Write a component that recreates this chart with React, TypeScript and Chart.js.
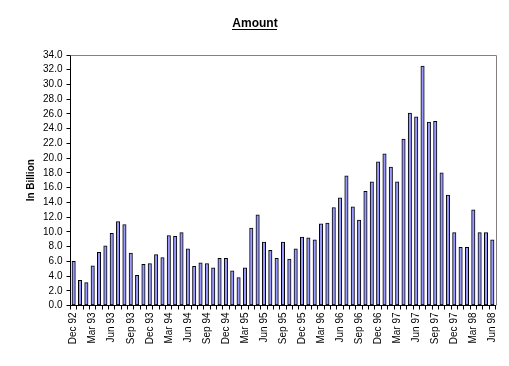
import React, { useEffect, useRef } from "react";
import { Chart, registerables } from "chart.js";

Chart.register(...registerables);

const MONTHS = ["Jan","Feb","Mar","Apr","May","Jun","Jul","Aug","Sep","Oct","Nov","Dec"];
const categories: string[] = [];
for (let i = 0; i < 67; i++) {
  const m = (11 + i) % 12;
  const y = 92 + Math.floor((11 + i) / 12);
  categories.push(`${MONTHS[m]} ${String(y).padStart(2, "0")}`);
}

const amounts = [
  6.0,
  3.4, 3.1, 5.4, 7.2, 8.1, 9.8, 11.4, 11.0, 7.1, 4.1, 5.6, 5.7,
  6.9, 6.5, 9.5, 9.4, 9.9, 7.7, 5.3, 5.8, 5.7, 5.1, 6.4, 6.4,
  4.7, 3.8, 5.1, 10.5, 12.3, 8.6, 7.5, 6.4, 8.6, 6.3, 7.7, 9.3,
  9.2, 8.9, 11.1, 11.2, 13.3, 14.6, 17.6, 13.4, 11.6, 15.5, 16.8, 19.5,
  20.6, 18.8, 16.8, 22.6, 26.1, 25.6, 32.5, 24.9, 25.0, 18.0, 15.0, 9.9,
  7.9, 7.9, 13.0, 9.9, 9.9, 8.9,
];

const yTicks = { min: 0, max: 34, step: 2 };
const FONT = "Arial, 'Liberation Sans', sans-serif";

export default function App() {
  const ref = useRef<HTMLCanvasElement | null>(null);
  useEffect(() => {
    if (!ref.current) return;
    const decor = {
      id: "decor",
      afterDraw(chart: any) {
        const ctx = chart.ctx;
        const a = chart.chartArea;
        ctx.save();
        ctx.strokeStyle = "#808080";
        ctx.lineWidth = 1;
        ctx.beginPath();
        ctx.moveTo(a.left, Math.round(a.top) + 0.5);
        ctx.lineTo(Math.round(a.right) + 0.5, Math.round(a.top) + 0.5);
        ctx.lineTo(Math.round(a.right) + 0.5, a.bottom);
        ctx.stroke();
        // title
        ctx.fillStyle = "#000";
        ctx.font = `bold 12px ${FONT}`;
        ctx.textAlign = "center";
        ctx.textBaseline = "alphabetic";
        const t = "Amount";
        const w = ctx.measureText(t).width;
        ctx.fillText(t, 255, 27);
        ctx.fillRect(Math.round(255 - w / 2), 29, Math.round(w), 1);
        // y title
        ctx.translate(31, (a.top + a.bottom) / 2);
        ctx.rotate(-Math.PI / 2);
        ctx.font = `bold 10px ${FONT}`;
        ctx.textBaseline = "middle";
        ctx.fillText("In Billion", 0, 0);
        ctx.restore();
      },
    };
    const chart = new Chart(ref.current, {
      type: "bar",
      data: {
        labels: categories,
        datasets: [
          {
            data: amounts,
            backgroundColor: "#9999FF",
            borderColor: "#000000",
            borderWidth: 1,
            borderSkipped: false,
            barThickness: 3.4,
          },
        ],
      },
      options: {
        animation: false,
        responsive: false,
        devicePixelRatio: 1,
        layout: { padding: { top: 55, right: 13.5, left: 0, bottom: 0 } },
        plugins: { legend: { display: false }, title: { display: false }, tooltip: { enabled: false } },
        scales: {
          x: {
            offset: true,
            grid: { display: true, drawOnChartArea: false, drawTicks: true, tickLength: 4, color: "#000", offset: true },
            border: { display: true, color: "#000", width: 1 },
            ticks: {
              autoSkip: false,
              minRotation: 90,
              maxRotation: 90,
              padding: 3,
              color: "#000",
              font: { family: FONT, size: 10 },
              callback: (_v: any, i: number) => (i % 3 === 0 ? categories[i] : ""),
            },
            afterFit: (s: any) => { s.height = 60.5; },
          },
          y: {
            min: yTicks.min,
            max: yTicks.max,
            grid: { display: true, drawOnChartArea: false, drawTicks: true, tickLength: 4, color: "#000" },
            border: { display: true, color: "#000", width: 1 },
            ticks: {
              stepSize: yTicks.step,
              autoSkip: false,
              padding: 4,
              color: "#000",
              font: { family: FONT, size: 10 },
              callback: (v: any) => Number(v).toFixed(1),
            },
            afterFit: (s: any) => { s.width = 70.5; },
          },
        },
      },
      plugins: [decor],
    } as any);
    return () => chart.destroy();
  }, []);
  return (
    <div style={{ position: "absolute", left: 0, top: 0, width: 509, height: 366, background: "#fff" }}>
      <canvas ref={ref} width={509} height={366} style={{ width: 509, height: 366 }} />
    </div>
  );
}
